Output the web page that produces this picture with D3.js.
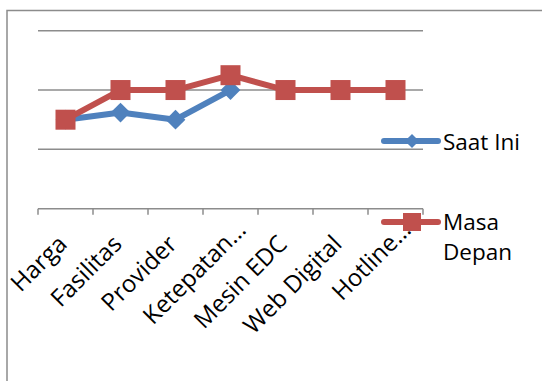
<!DOCTYPE html>
<html>
<head>
<meta charset="utf-8">
<script src="https://cdn.jsdelivr.net/npm/d3@7"></script>
<style>
  html, body { margin: 0; padding: 0; background: #fff; }
  svg { display: block; font-family: "Open Sans", "Liberation Sans", sans-serif; }
</style>
</head>
<body>
<svg id="chart" width="542" height="381"></svg>
<script>
// Categories and series values (Saat Ini has no values past Ketepatan)
const categories = ["Harga", "Fasilitas", "Provider", "Ketepatan…", "Mesin EDC", "Web Digital", "Hotline…"];
const saatIni    = [3.5, 3.62, 3.5, 4, null, null, null];
const masaDepan  = [3.5, 4, 4, 4.25, 4, 4, 4];
const gridValues = [3, 4, 5];
const seriesNames = ["Saat Ini", "Masa Depan"];

const blue = "#4F81BD", red = "#C0504D", gridColor = "#8C8C8C";

const svg = d3.select("#chart");

// outer chart frame
svg.append("rect")
  .attr("x", 7).attr("y", 10.5)
  .attr("width", 560).attr("height", 400)
  .attr("fill", "none").attr("stroke", gridColor).attr("stroke-width", 1.5);

const plot = { left: 38, right: 423, top: 30.7, bottom: 208.7 };

const x = d3.scaleBand().domain(categories).range([plot.left, plot.right]);
const y = d3.scaleLinear().domain([2, 5]).range([plot.bottom, plot.top]);
const cx = d => x(d) + x.bandwidth() / 2;

// horizontal gridlines
svg.append("g").selectAll("line").data(gridValues).join("line")
  .attr("x1", plot.left).attr("x2", plot.right)
  .attr("y1", d => y(d)).attr("y2", d => y(d))
  .attr("stroke", gridColor).attr("stroke-width", 1.5);

// category axis: baseline plus tick marks on the band boundaries
const axisG = svg.append("g").attr("transform", `translate(0,${plot.bottom})`)
  .call(d3.axisBottom(x).tickSize(0).tickFormat(""));
axisG.select(".domain").remove();
axisG.append("line")
  .attr("x1", plot.left).attr("x2", plot.right)
  .attr("stroke", gridColor).attr("stroke-width", 1.5);
const boundaries = categories.map(c => x(c)).concat([plot.right]);
axisG.selectAll("line.tk").data(boundaries).join("line")
  .attr("class", "tk")
  .attr("x1", d => d).attr("x2", d => d)
  .attr("y1", 0).attr("y2", 6)
  .attr("stroke", gridColor).attr("stroke-width", 1.5);

// rotated category labels; truncated labels sit further along their baseline
const r2 = Math.SQRT1_2;
svg.append("g").selectAll("text").data(categories).join("text")
  .attr("transform", d => {
    const along = d.endsWith("…") ? -4 : -24;
    const perp = 28;
    const ax = cx(d) + r2 * (perp + along);
    const ay = plot.bottom + r2 * (perp - along);
    return `translate(${ax},${ay}) rotate(-45)`;
  })
  .attr("text-anchor", "end")
  .attr("font-size", 24)
  .attr("fill", "#000")
  .text(d => d);

const line = d3.line()
  .defined(d => d != null)
  .x((d, i) => cx(categories[i]))
  .y(d => y(d));

// Saat Ini series
svg.append("path").datum(saatIni)
  .attr("d", line).attr("fill", "none")
  .attr("stroke", blue).attr("stroke-width", 6).attr("stroke-linejoin", "round");
svg.append("g").selectAll("path")
  .data(saatIni.map((v, i) => ({ v, c: categories[i] })).filter(d => d.v != null))
  .join("path")
  .attr("d", d3.symbol().type(d3.symbolSquare).size(196))
  .attr("transform", d => `translate(${cx(d.c)},${y(d.v)}) rotate(45)`)
  .attr("fill", blue);

// Masa Depan series
svg.append("path").datum(masaDepan)
  .attr("d", line).attr("fill", "none")
  .attr("stroke", red).attr("stroke-width", 6).attr("stroke-linejoin", "round");
svg.append("g").selectAll("rect").data(masaDepan).join("rect")
  .attr("x", (d, i) => cx(categories[i]) - 10)
  .attr("y", d => y(d) - 10)
  .attr("width", 20).attr("height", 20)
  .attr("fill", red);

// legend
const legend = svg.append("g");
const l1 = legend.append("g").attr("transform", "translate(0,141)");
l1.append("line").attr("x1", 384).attr("x2", 438)
  .attr("stroke", blue).attr("stroke-width", 6).attr("stroke-linecap", "round");
l1.append("path").attr("d", d3.symbol().type(d3.symbolSquare).size(100))
  .attr("transform", "translate(412,0) rotate(45)").attr("fill", blue);
l1.append("text").attr("x", 443).attr("y", 9).attr("font-size", 22.5).text(seriesNames[0]);

const l2 = legend.append("g").attr("transform", "translate(0,222)");
l2.append("line").attr("x1", 384).attr("x2", 438)
  .attr("stroke", red).attr("stroke-width", 6).attr("stroke-linecap", "round");
l2.append("rect").attr("x", 403).attr("y", -9).attr("width", 18).attr("height", 18).attr("fill", red);
const t2 = l2.append("text").attr("x", 443).attr("y", 8).attr("font-size", 22.5);
const words = seriesNames[1].split(" ");
t2.append("tspan").attr("x", 443).text(words[0]);
t2.append("tspan").attr("x", 443).attr("dy", 30).text(words[1]);
</script>
</body>
</html>
